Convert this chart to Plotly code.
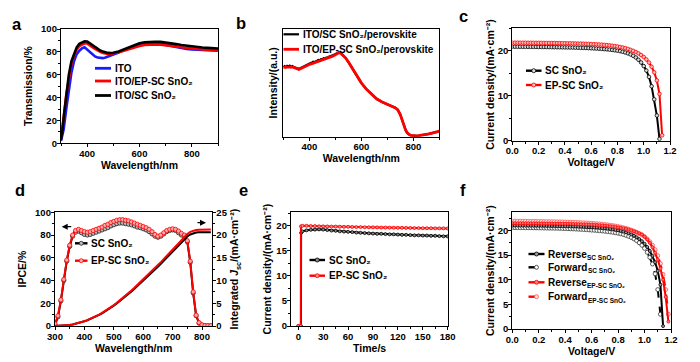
import plotly.graph_objects as go

W, H = 700, 362
FONT = "Liberation Sans, Arial, sans-serif"

# ---------------- (a) transmission ----------------
wl_a = [300, 305, 310, 320, 330, 340, 350, 360, 370, 380,
        390, 400, 410, 420, 430, 440, 450, 460, 470, 480,
        490, 500, 520, 540, 560, 580, 600, 620, 640, 660,
        680, 700, 720, 740, 760, 780, 800, 820, 840, 860,
        880, 900]
T_ito = [2, 6, 12, 30, 48, 62, 72, 78, 81, 83,
         84, 82, 79.5, 77.5, 76, 75, 74.5, 74.5, 75, 75.8,
         76.7, 77.6, 79.5, 81.5, 83.5, 85.5, 87, 87.5, 87.7, 87.4,
         87, 86, 85, 84, 83.2, 82.6, 82.2, 81.9, 81.6, 81.4,
         81.2, 81]
T_ep = [5, 12, 22, 42, 58, 70, 77, 82, 85, 86.5,
        87.5, 87.3, 86, 84, 82.5, 81, 80, 79, 78.5, 78.2,
        78.3, 78.6, 79.6, 81, 82.5, 84, 85.2, 86, 86.4, 86.5,
        86.3, 86, 85.5, 84.8, 84, 83.4, 82.9, 82.5, 82.1, 81.8,
        81.5, 81.2]
T_sc = [3, 10, 22, 44, 60, 72, 79, 84, 87, 88.5,
        89.3, 89, 87.8, 86, 84.3, 82.6, 81.2, 80.2, 79.5, 79.1,
        79, 79.2, 80.3, 82, 84, 86, 87.5, 88.4, 88.8, 88.9,
        88.7, 88.2, 87.5, 86.8, 86, 85.3, 84.7, 84.2, 83.8, 83.5,
        83.2, 83]

# ---------------- (b) absorption (a.u.) ----------------
wl_b = [300, 310, 320, 330, 340, 350, 360, 370, 380, 390, 400, 410, 420, 430,
        440, 450, 460, 470, 480, 490, 500, 510, 515, 520, 530, 540, 550, 560,
        570, 580, 590, 600, 620, 640, 660, 680, 700, 710, 720, 730, 740, 745,
        750, 755, 760, 765, 770, 775, 780, 790, 800, 810, 820, 840, 860, 880, 900]
I_ep = [0.643, 0.647, 0.65, 0.648, 0.643, 0.635, 0.625, 0.635, 0.648, 0.66, 0.67,
        0.678, 0.686, 0.694, 0.702, 0.71, 0.718, 0.727, 0.737, 0.748, 0.76, 0.775,
        0.782, 0.778, 0.758, 0.73, 0.695, 0.655, 0.615, 0.575, 0.537, 0.5,
        0.44, 0.39, 0.35, 0.322, 0.302, 0.293, 0.283, 0.27, 0.25,
        0.232, 0.205, 0.17, 0.13, 0.095, 0.065, 0.042, 0.027,
        0.012, 0.007, 0.007, 0.009, 0.016, 0.026, 0.038, 0.051]
wl_b_sc = [300, 305, 310, 315, 320, 325, 330, 335, 340, 345, 350, 355, 360, 365,
           370, 375, 380, 385, 390, 395, 400, 405, 410, 415, 420, 425, 430, 435,
           440, 445, 450, 455, 460, 465, 470, 475, 480, 485, 490, 495, 500, 505,
           510, 515, 520]
I_sc = [0.648, 0.655, 0.645, 0.658, 0.652, 0.66, 0.648, 0.655, 0.646, 0.642, 0.64,
        0.632, 0.63, 0.635, 0.642, 0.65, 0.655, 0.66, 0.668, 0.672, 0.68, 0.685,
        0.688, 0.696, 0.694, 0.703, 0.705, 0.712, 0.71, 0.72, 0.718, 0.728, 0.726,
        0.735, 0.734, 0.742, 0.745, 0.752, 0.755, 0.762, 0.766, 0.772, 0.778,
        0.785, 0.78]

# ---------------- shared voltage grid (c, f) ----------------
volt = [0.00, 0.02, 0.04, 0.06, 0.08, 0.10, 0.12, 0.14, 0.16, 0.18, 0.20,
        0.22, 0.24, 0.26, 0.28, 0.30, 0.32, 0.34, 0.36, 0.38, 0.40,
        0.42, 0.44, 0.46, 0.48, 0.50, 0.52, 0.54, 0.56, 0.58, 0.60,
        0.62, 0.64, 0.66, 0.68, 0.70, 0.72, 0.74, 0.76, 0.78, 0.80,
        0.82, 0.84, 0.86, 0.88, 0.90, 0.92, 0.94, 0.96, 0.98,
        1.00, 1.02, 1.04, 1.06, 1.08, 1.10, 1.12, 1.14, 1.16, 1.18]

# ---------------- (c) J-V ----------------
jc_sc = [20.90, 20.90, 20.90, 20.89, 20.89, 20.88, 20.88, 20.87, 20.87, 20.86, 20.85,
         20.84, 20.84, 20.83, 20.82, 20.81, 20.80, 20.79, 20.78, 20.77, 20.76,
         20.75, 20.73, 20.72, 20.70, 20.68, 20.66, 20.64, 20.62, 20.59, 20.56,
         20.53, 20.50, 20.46, 20.42, 20.37, 20.32, 20.26, 20.19, 20.11, 20.02,
         19.91, 19.78, 19.62, 19.42, 19.18, 18.88, 18.50, 18.00, 17.40,
         16.60, 15.60, 14.20, 12.10, 9.20, 5.60, 0.40]
jc_ep = [21.80, 21.80, 21.80, 21.79, 21.79, 21.79, 21.78, 21.78, 21.77, 21.77, 21.76,
         21.76, 21.75, 21.74, 21.74, 21.73, 21.72, 21.71, 21.70, 21.69, 21.68,
         21.67, 21.66, 21.64, 21.63, 21.61, 21.59, 21.57, 21.55, 21.53, 21.50,
         21.47, 21.44, 21.40, 21.36, 21.31, 21.26, 21.20, 21.13, 21.05, 20.96,
         20.85, 20.73, 20.58, 20.41, 20.21, 19.98, 19.72, 19.42, 19.06,
         18.62, 18.08, 17.38, 16.45, 15.20, 13.40, 10.40, 1.20]

# ---------------- (d) IPCE + integrated Jsc ----------------
wl_d = [300, 310, 320, 330, 340, 350, 360, 370, 380, 390, 400, 410, 420, 430,
        440, 450, 460, 470, 480, 490, 500, 510, 520, 530, 540, 550, 560, 570,
        580, 590, 600, 610, 620, 630, 640, 650, 660, 670, 680, 690, 700, 710,
        720, 730, 740, 750, 760, 770, 780, 790, 800, 810, 820, 830]
ipce_sc = [1, 8, 22, 40, 57, 70, 79, 82.5, 83.5, 82, 80.5, 80, 80.5, 81.5,
           82.5, 83.5, 84.5, 85.5, 86.5, 88, 89, 90, 90.5, 90.5, 90, 89.5, 89, 88,
           87, 86.5, 85.5, 84.5, 83, 81, 79, 78, 79, 81, 83, 84, 84.5, 84,
           82, 80, 79, 74, 56, 29, 9, 2.5, 0.8, 0.3, 0.2, 0.2]
ipce_ep = [2, 9, 23, 41, 58, 71, 80, 84, 85, 84, 83, 82.5, 83, 84,
           85, 86, 87, 88.5, 89.5, 91, 92, 93, 93.5, 93.5, 93, 92.5, 91.5, 90.5,
           89.5, 88.5, 87.5, 86.5, 85, 83, 80.5, 79, 80, 82, 84, 85, 85.5, 85,
           83.5, 81.5, 80, 75, 57, 30, 9.5, 3, 1, 0.4, 0.3, 0.3]
jint_sc = [0, 0.01, 0.03, 0.07, 0.13, 0.22, 0.33, 0.47, 0.63, 0.82, 1.03, 1.26, 1.52, 1.8,
           2.11, 2.44, 2.8, 3.18, 3.59, 4.02, 4.47, 4.95, 5.45, 5.97, 6.5, 7.05, 7.61, 8.18,
           8.76, 9.35, 9.95, 10.56, 11.18, 11.8, 12.42, 13.04, 13.67, 14.32, 14.99, 15.68, 16.38, 17.08,
           17.77, 18.45, 19.1, 19.68, 20.12, 20.4, 20.55, 20.6, 20.62, 20.63, 20.63, 20.63]
jint_ep = [0, 0.01, 0.03, 0.07, 0.13, 0.22, 0.34, 0.48, 0.65, 0.84, 1.06, 1.3, 1.56, 1.85,
           2.17, 2.51, 2.88, 3.27, 3.69, 4.13, 4.6, 5.09, 5.6, 6.14, 6.69, 7.25, 7.83, 8.41,
           9.01, 9.61, 10.23, 10.86, 11.49, 12.13, 12.76, 13.4, 14.05, 14.72, 15.41, 16.12, 16.84, 17.56,
           18.27, 18.97, 19.64, 20.23, 20.69, 20.97, 21.12, 21.18, 21.2, 21.2, 21.2, 21.2]

# ---------------- (e) steady-state current ----------------
t_steady = [5, 10, 15, 20, 25, 30, 35, 40, 45, 50, 55, 60, 65, 70, 75, 80, 85, 90,
            95, 100, 105, 110, 115, 120, 125, 130, 135, 140, 145, 150, 155, 160,
            165, 170, 175, 180]
t_on_sc = [0, 3.2, 3.4]
j_on_sc = [0, 0, 18.6]
t_on_ep = [0, 3.0, 3.2]
j_on_ep = [0, 0, 19.9]
je_sc = [18.9, 19.1, 19.2, 19.25, 19.3, 19.25, 19.15, 19.05, 19.0, 18.9, 18.85, 18.8,
         18.75, 18.65, 18.6, 18.55, 18.5, 18.45, 18.4, 18.4, 18.35, 18.3, 18.3, 18.25,
         18.2, 18.2, 18.15, 18.1, 18.1, 18.05, 18.05, 18.0, 18.0, 17.95, 17.9, 17.9]
je_ep = [20.0, 20.0, 19.95, 19.95, 19.9, 19.9, 19.88, 19.85, 19.85, 19.82, 19.8, 19.8,
         19.78, 19.75, 19.75, 19.72, 19.7, 19.7, 19.68, 19.65, 19.65, 19.63, 19.62, 19.6,
         19.6, 19.58, 19.57, 19.55, 19.55, 19.53, 19.52, 19.52, 19.5, 19.5, 19.5, 19.48]

# ---------------- (f) hysteresis J-V ----------------
jf_rev_sc = [21.00, 21.00, 21.00, 20.99, 20.99, 20.98, 20.98, 20.97, 20.97, 20.96, 20.95,
             20.95, 20.94, 20.93, 20.92, 20.91, 20.90, 20.89, 20.88, 20.87, 20.86,
             20.85, 20.84, 20.82, 20.81, 20.79, 20.77, 20.75, 20.72, 20.69, 20.66,
             20.63, 20.59, 20.55, 20.50, 20.44, 20.38, 20.31, 20.23, 20.14, 20.04,
             19.92, 19.78, 19.62, 19.43, 19.21, 18.95, 18.64, 18.27, 17.83,
             17.30, 16.65, 15.85, 14.85, 13.55, 11.80, 9.00, 0.60]
jf_fwd_sc = [20.60, 20.59, 20.59, 20.58, 20.58, 20.57, 20.56, 20.56, 20.55, 20.54, 20.53,
             20.52, 20.51, 20.50, 20.49, 20.48, 20.47, 20.46, 20.44, 20.42, 20.40,
             20.38, 20.36, 20.33, 20.30, 20.27, 20.24, 20.21, 20.17, 20.13, 20.09,
             20.05, 20.01, 19.96, 19.91, 19.85, 19.79, 19.72, 19.64, 19.55, 19.45,
             19.33, 19.19, 19.02, 18.82, 18.58, 18.29, 17.94, 17.52, 17.01,
             16.38, 15.58, 14.55, 13.20, 11.20, 8.00, 3.00]
jf_rev_ep = [21.50, 21.50, 21.50, 21.49, 21.49, 21.48, 21.48, 21.47, 21.47, 21.46, 21.46,
             21.45, 21.44, 21.44, 21.43, 21.42, 21.41, 21.40, 21.39, 21.38, 21.37,
             21.36, 21.35, 21.33, 21.32, 21.30, 21.28, 21.26, 21.24, 21.22, 21.19,
             21.16, 21.13, 21.09, 21.05, 21.00, 20.95, 20.89, 20.82, 20.74, 20.65,
             20.55, 20.44, 20.32, 20.18, 20.02, 19.84, 19.64, 19.43, 19.20,
             18.75, 18.20, 17.50, 16.60, 15.50, 14.10, 12.30, 10.00, 6.50, 1.50]
jf_fwd_ep = [21.90, 21.90, 21.89, 21.89, 21.88, 21.88, 21.87, 21.86, 21.86, 21.85, 21.84,
             21.83, 21.82, 21.81, 21.80, 21.79, 21.78, 21.77, 21.75, 21.74, 21.72,
             21.70, 21.68, 21.66, 21.64, 21.62, 21.59, 21.56, 21.53, 21.50, 21.46,
             21.42, 21.38, 21.33, 21.28, 21.22, 21.15, 21.08, 21.00, 20.91, 20.81,
             20.70, 20.57, 20.43, 20.27, 20.09, 19.88, 19.65, 19.39, 19.10,
             18.75, 18.30, 17.72, 17.00, 16.10, 14.90, 13.30, 11.10, 8.00, 3.00]

# ---------------- helpers ----------------
def dom_x(left, right):
    return [left / W, right / W]


def dom_y(top, bottom):
    return [1 - bottom / H, 1 - top / H]


def tfont(size=10.5):
    return dict(family=FONT, size=size, color="black", weight="bold")


def axis(**kw):
    base = dict(showline=True, linecolor="black", linewidth=1.3, mirror=True,
                ticks="outside", ticklen=3, tickwidth=1.1, tickcolor="black",
                ticklabelstandoff=-2,
                showgrid=False, zeroline=False, automargin=False,
                tickfont=tfont(9.5),
                minor=dict(ticks="outside", ticklen=2, tickwidth=1,
                           tickcolor="black", showgrid=False))
    base.update(kw)
    return base


def ttl(text, standoff):
    return dict(text=text, font=tfont(10.5), standoff=standoff)


fig = go.Figure()


def add(x, y, xa, ya, name, color, width=2.2, dash="solid", msize=0,
        mfill="white", mline=None, msym="circle"):
    mode = "lines+markers" if msize else "lines"
    fig.add_trace(go.Scatter(
        x=x, y=y, xaxis=xa, yaxis=ya, name=name, mode=mode, showlegend=False,
        line=dict(color=color, width=width, dash=dash),
        marker=dict(size=msize, symbol=msym, color=mfill,
                    line=dict(color=mline or color, width=0.8))))


RED = "#ff0000"
BLUE = "#1a1aff"
BLK = "#000000"

# (a)
add(wl_a, T_ito, "x", "y", "ITO", BLUE, 2.6)
add(wl_a, T_ep, "x", "y", "ITO/EP-SC SnO2", RED, 2.6)
add(wl_a, T_sc, "x", "y", "ITO/SC SnO2", BLK, 2.6)
# (b)
add(wl_b_sc + wl_b[24:], I_sc + I_ep[24:], "x2", "y2", "ITO/SC SnO2/perovskite", BLK, 2.2)
add(wl_b, I_ep, "x2", "y2", "ITO/EP-SC SnO2/perovskite", RED, 2.8)
# (c)
add(volt[:len(jc_sc)], jc_sc, "x3", "y3", "SC SnO2", BLK, 2.0, msize=3.6, mfill="#dddddd")
add(volt[:len(jc_ep)], jc_ep, "x3", "y3", "EP-SC SnO2", RED, 2.0, msize=3.6, mfill="#ffbbbb")
# (d)
add(wl_d, ipce_sc, "x4", "y4", "SC SnO2", BLK, 2.0, msize=4.2, mfill="#bbbbbb", mline="#222222")
add(wl_d, ipce_ep, "x4", "y4", "EP-SC SnO2", RED, 2.0, msize=4.2, mfill="#ffaaaa")
add(wl_d, jint_sc, "x4", "y7", "Integrated SC SnO2", BLK, 2.0)
add(wl_d, jint_ep, "x4", "y7", "Integrated EP-SC SnO2", RED, 2.0)
# (e)
add(t_on_sc + t_steady, j_on_sc + je_sc, "x5", "y5", "SC SnO2", BLK, 2.0, msize=3, mfill="#888888")
add(t_on_ep + t_steady, j_on_ep + je_ep, "x5", "y5", "EP-SC SnO2", RED, 2.0, msize=3, mfill="#ff8888")
# (f)
add(volt[:len(jf_fwd_sc)], jf_fwd_sc, "x6", "y6", "Forward SC SnO2", BLK, 2.0, dash="dash",
    msize=4, mfill="white", mline="#333333")
add(volt[:len(jf_rev_sc)], jf_rev_sc, "x6", "y6", "Reverse SC SnO2", BLK, 2.0,
    msize=3, mfill="#999999")
add(volt[:len(jf_fwd_ep)], jf_fwd_ep, "x6", "y6", "Forward EP-SC SnO2", RED, 2.0, dash="dash",
    msize=4, mfill="#ffe0e0", mline="#ff5555")
add(volt[:len(jf_rev_ep)], jf_rev_ep, "x6", "y6", "Reverse EP-SC SnO2", RED, 2.0,
    msize=3, mfill="#ff7777")

SUP = "(mA·cm⁻²)"

fig.update_layout(
    width=W, height=H, margin=dict(l=0, r=0, t=0, b=0),
    paper_bgcolor="white", plot_bgcolor="white",
    font=dict(family=FONT, size=10, color="black", weight="bold"),
    showlegend=False,
    # (a)
    xaxis=axis(domain=dom_x(61, 218), anchor="y", range=[300, 900], tick0=400, dtick=200,
               minor_dtick=100, title=ttl("Wavelength/nm", 1)),
    yaxis=axis(domain=dom_y(29, 143.3), anchor="x", range=[0, 100], dtick=20, minor_dtick=10,
               title=ttl("Transmission/%", 6)),
    # (b)
    xaxis2=axis(domain=dom_x(283.3, 439.3), anchor="y2", range=[300, 900], tick0=400, dtick=200,
                minor_dtick=100, title=ttl("Wavelength/nm", 3)),
    yaxis2=axis(domain=dom_y(29, 136.7), anchor="x2", range=[0, 1], showticklabels=False,
                ticks="", minor=dict(ticks=""), title=ttl("Intensity/(a.u.)", 2)),
    # (c)
    xaxis3=axis(domain=dom_x(512.3, 670), anchor="y3", range=[0, 1.2], dtick=0.2, tickformat=".1f",
                minor_dtick=0.1, title=ttl("Voltage/V", 2)),
    yaxis3=axis(domain=dom_y(28.3, 140.7), anchor="x3", range=[0, 25], dtick=10, minor_dtick=5,
                title=ttl("Current density/" + SUP, 0)),
    # (d)
    xaxis4=axis(domain=dom_x(55, 212.3), anchor="y4", range=[300, 835], dtick=100, minor_dtick=50,
                title=ttl("Wavelength/nm", 1)),
    yaxis4=axis(domain=dom_y(212.3, 326), anchor="x4", range=[0, 100], dtick=20, minor_dtick=10,
                title=ttl("IPCE/%", 6)),
    yaxis7=axis(domain=dom_y(212.3, 326), anchor="x4", overlaying="y4", side="right", mirror=False,
                range=[0, 25], dtick=5, minor_dtick=2.5,
                title=ttl("Integrated <i>J</i><sub>sc</sub>/" + SUP, 4)),
    # (e)
    xaxis5=axis(domain=dom_x(291, 448.3), anchor="y5", range=[-8.8, 180.8], tick0=0, dtick=30,
                minor_dtick=15, title=ttl("Time/s", 1)),
    yaxis5=axis(domain=dom_y(212.3, 326), anchor="x5", range=[0, 22.7], dtick=5, minor_dtick=2.5,
                title=ttl("Current density/" + SUP, 2)),
    # (f)
    xaxis6=axis(domain=dom_x(512.3, 671), anchor="y6", range=[0, 1.2], dtick=0.2, tickformat=".1f",
                minor_dtick=0.1, title=ttl("Voltage/V", 1)),
    yaxis6=axis(domain=dom_y(212.3, 329), anchor="x6", range=[0, 23.7], dtick=5, minor_dtick=2.5,
                title=ttl("Current density/" + SUP, 0)),
)


# ---------- legends (keys drawn in page coordinates) ----------
def key(x0, x1, y, text, color, dash="solid", width=2.4, mfill=None, mline=None, r=2.0,
        size=10, sub=None, sub_dx=0):
    yp = 1 - y / H
    fig.add_shape(type="line", xref="paper", yref="paper", x0=x0 / W, x1=x1 / W, y0=yp, y1=yp,
                  line=dict(color=color, width=width, dash=dash))
    if mfill:
        xc = (x0 + x1) / 2
        fig.add_shape(type="circle", xref="paper", yref="paper",
                      x0=(xc - r) / W, x1=(xc + r) / W, y0=1 - (y + r) / H, y1=1 - (y - r) / H,
                      fillcolor=mfill, line=dict(color=mline or color, width=0.8))
    fig.add_annotation(xref="paper", yref="paper", x=(x1 + 1.5) / W, y=yp, text=text,
                       showarrow=False, xanchor="left", yanchor="middle", font=tfont(size))
    if sub:
        fig.add_annotation(xref="paper", yref="paper", x=(x1 + 1.5 + sub_dx) / W,
                           y=1 - (y + 3.5) / H, text=sub, showarrow=False,
                           xanchor="left", yanchor="middle", font=tfont(6.5))


SNO2 = "SnO₂"
# (a)
key(95, 111, 68.3, "ITO", BLUE, width=2.8)
key(95, 111, 81, "ITO/EP-SC " + SNO2, RED, width=2.8)
key(95, 111, 95.5, "ITO/SC " + SNO2, BLK, width=2.8)
# (b)
key(283.5, 299, 34.3, "ITO/SC " + SNO2 + "/perovskite", BLK, width=2.2)
key(283.5, 299, 49.3, "ITO/EP-SC " + SNO2 + "/perovskite", RED, width=2.8)
# (c)
key(526, 541.5, 70.7, "SC " + SNO2, BLK, mfill="#dddddd")
key(526, 541.5, 85, "EP-SC " + SNO2, RED, mfill="#ffbbbb")
# (d)
key(75, 87.5, 243.3, "SC " + SNO2, BLK, mfill="#bbbbbb", mline="#222222")
key(75, 87.5, 260.7, "EP-SC " + SNO2, RED, mfill="#ffaaaa")
# (e)
key(309.5, 325, 260, "SC " + SNO2, BLK, mfill="#888888")
key(309.5, 325, 275.7, "EP-SC " + SNO2, RED, mfill="#ff8888")
# (f)
key(528.5, 544.5, 254, "Reverse", BLK, mfill="#999999", sub="SC SnO₂", sub_dx=39)
key(528.5, 544.5, 267.3, "Forward", BLK, dash="dash", mfill="white", mline="#333333",
    sub="SC SnO₂", sub_dx=39.5)
key(528.5, 544.5, 282.3, "Reverse", RED, mfill="#ff7777", sub="EP-SC SnO₂", sub_dx=39)
key(528.5, 544.5, 296.7, "Forward", RED, dash="dash", mfill="#ffe0e0", mline="#ff5555",
    sub="EP-SC SnO₂", sub_dx=39.5)

# ---------- axis-direction arrows in (d) ----------
fig.add_annotation(xref="paper", yref="paper", x=61.7 / W, y=1 - 226.7 / H, ax=11, ay=0,
                   text="", showarrow=True, arrowhead=2, arrowsize=1, arrowwidth=1.2,
                   arrowcolor="black")
fig.add_annotation(xref="paper", yref="paper", x=206 / W, y=1 - 222.7 / H, ax=-10, ay=0,
                   text="", showarrow=True, arrowhead=2, arrowsize=1, arrowwidth=1.2,
                   arrowcolor="black")

# ---------- panel letters ----------
for letter, lx, ly in [("a", 17, 24), ("b", 241, 23.5), ("c", 463.5, 16.5),
                       ("d", 19.5, 190), ("e", 243, 189.5), ("f", 463, 190)]:
    fig.add_annotation(xref="paper", yref="paper", x=lx / W, y=1 - ly / H, text=letter,
                       showarrow=False, xanchor="center", yanchor="middle", font=tfont(16.5))

fig.write_html("out.html", config={"displayModeBar": False},
               post_script="document.body.style.margin='0';document.body.style.padding='0';")
